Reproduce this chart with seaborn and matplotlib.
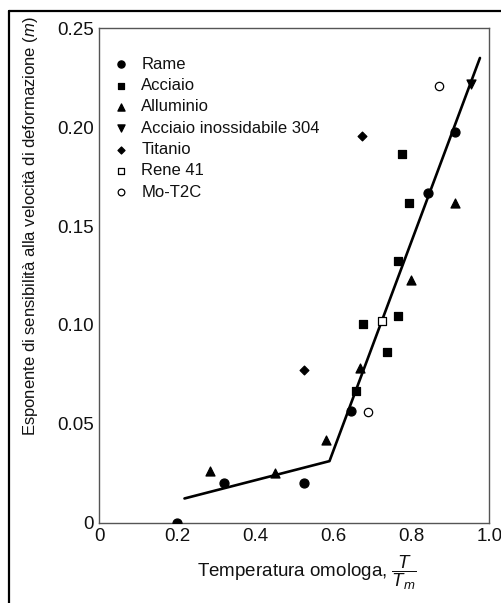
import matplotlib
matplotlib.use("Agg")
import matplotlib.pyplot as plt
from matplotlib.lines import Line2D
import seaborn as sns

sns.set_style("white")
plt.rcParams['font.family'] = ['Liberation Sans', 'DejaVu Sans']
plt.rcParams['mathtext.fontset'] = 'custom'
plt.rcParams['mathtext.rm'] = 'Liberation Sans'
plt.rcParams['mathtext.it'] = 'Liberation Sans:italic'

# Data
rame_x = [0.20, 0.32, 0.525, 0.645, 0.842, 0.912]
rame_y = [0.0, 0.020, 0.020, 0.0565, 0.1667, 0.1976]
acciaio_x = [0.657, 0.675, 0.737, 0.767, 0.767, 0.795, 0.777]
acciaio_y = [0.0665, 0.1002, 0.0865, 0.1044, 0.1324, 0.1614, 0.1863]
alluminio_x = [0.283, 0.451, 0.581, 0.668, 0.800, 0.912]
alluminio_y = [0.026, 0.025, 0.042, 0.078, 0.1226, 0.1617]
inox_x = [0.953]
inox_y = [0.2217]
titanio_x = [0.525, 0.673]
titanio_y = [0.077, 0.1954]
rene_x = [0.724]
rene_y = [0.102]
mot2c_x = [0.690, 0.871]
mot2c_y = [0.056, 0.221]
fit_x = [0.218, 0.590, 0.976]
fit_y = [0.0122, 0.0311, 0.235]

xticks = [0, 0.2, 0.4, 0.6, 0.8, 1.0]
xticklabels = ['0', '0.2', '0.4', '0.6', '0.8', '1.0']
yticks = [0, 0.05, 0.10, 0.15, 0.20, 0.25]
yticklabels = ['0', '0.05', '0.10', '0.15', '0.20', '0.25']

fig = plt.figure(figsize=(5.02, 6.03), dpi=100)
ax = fig.add_axes([99.5/502, 1-522.6/603, (489.3-99.5)/502, (522.6-28.3)/603])

series = [
    ('Rame', rame_x, rame_y, 'o', 'black', 42),
    ('Acciaio', acciaio_x, acciaio_y, 's', 'black', 34),
    ('Alluminio', alluminio_x, alluminio_y, '^', 'black', 42),
    ('Acciaio inossidabile 304', inox_x, inox_y, 'v', 'black', 42),
    ('Titanio', titanio_x, titanio_y, 'D', 'black', 20),
    ('Rene 41', rene_x, rene_y, 's', 'white', 34),
    ('Mo-T2C', mot2c_x, mot2c_y, 'o', 'white', 36),
]
for name, xs, ys, mk, fc, s in series:
    sns.scatterplot(x=xs, y=ys, ax=ax, marker=mk, s=s, color=fc,
                    edgecolor='black', linewidth=0.9, label=name, zorder=3)

sns.lineplot(x=fit_x, y=fit_y, ax=ax, color='black', linewidth=1.9,
             sort=False, zorder=2)

ax.set_xlim(0, 1.0)
ax.set_ylim(0, 0.25)
ax.set_xticks(xticks)
ax.set_xticklabels(xticklabels)
ax.set_yticks(yticks)
ax.set_yticklabels(yticklabels)
ax.tick_params(direction='in', length=6, width=1, color='#444',
               labelsize=13.5, labelcolor='#111', pad=4)
for sp in ax.spines.values():
    sp.set_color('#555')
    sp.set_linewidth(1.0)

ax.set_xlabel('')
ax.set_ylabel('')
fig.text(307/502, 1-573/603, r'Temperatura omologa, $\dfrac{T}{T_m}$',
         ha='center', va='center', fontsize=13.5, color='#111')
fig.text(31/502, 1-226/603,
         r'Esponente di sensibilità alla velocità di deformazione ($m$)',
         ha='center', va='center', rotation=90, fontsize=12, color='#111')

leg = ax.legend(loc='upper left', bbox_to_anchor=(0.0, 0.966), frameon=False,
                fontsize=12, handletextpad=0.6, labelspacing=0.38,
                borderaxespad=0.3, handlelength=1.2, markerscale=0.8)
for t in leg.get_texts():
    t.set_color('#111')

fig.add_artist(Line2D([9/502, 9/502], [0, 1-11/603], color='black', lw=1.6))
fig.add_artist(Line2D([9/502, 1], [1-11/603, 1-11/603], color='black', lw=1.6))

fig.savefig('out.png', dpi=100)
